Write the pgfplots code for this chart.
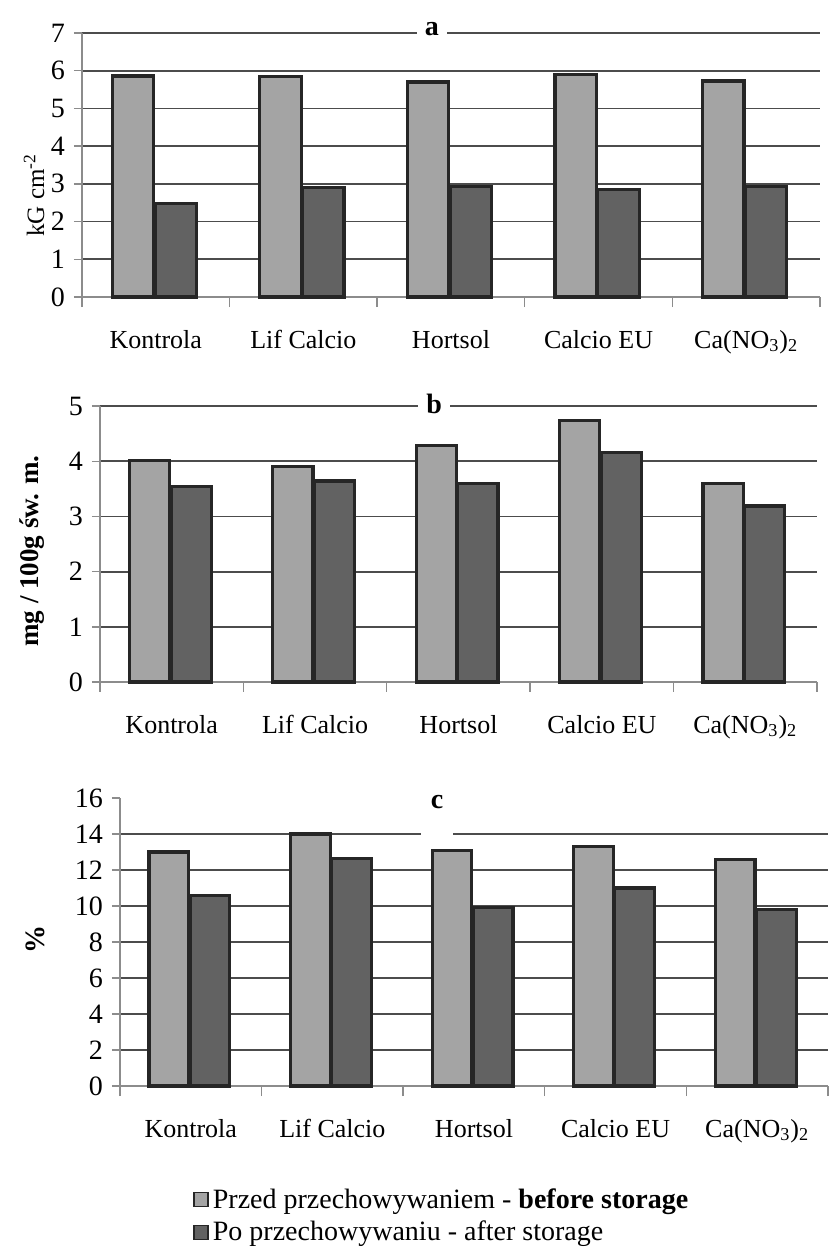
\documentclass[border=0pt]{standalone}
\usepackage{fontspec}
\setmainfont{Liberation Serif}
\usepackage{pgfplots}
\pgfplotsset{compat=1.18}

\definecolor{bef}{HTML}{A4A4A4}
\definecolor{aft}{HTML}{626262}
\definecolor{gridc}{gray}{0.30}
\definecolor{axc}{gray}{0.55}

\pgfplotsset{
  panel/.style={
    scale only axis,
    anchor=north west,
    clip=false,
    xmin=0.5, xmax=5.5, ymin=0,
    xtick={1,2,3,4,5},
    xticklabels={Kontrola, Lif Calcio, Hortsol, Calcio EU, Ca(NO\textsubscript{3})\textsubscript{2}},
    minor xtick={0.5,1.5,2.5,3.5,4.5,5.5},
    major x tick style={draw=none},
    minor x tick style={draw=axc, line width=0.7pt},
    ytick style={draw=axc, line width=0.7pt},
    tick align=outside,
    major tick length=4pt, minor tick length=5pt,
    axis x line*=bottom, axis y line*=left,
    axis line style={draw=axc, line width=0.7pt},
    ymajorgrids, grid style={draw=gridc, line width=0.9pt},
    xticklabel style={font=\fontsize{13}{15}\selectfont, yshift=-9pt},
    yticklabel style={font=\fontsize{14}{16}\selectfont, xshift=-1pt},
    /pgf/number format/assume math mode=true,
    bar width=0.28,
  },
  bef/.style={ybar, bar shift=-0.155, draw=black!85, line width=1.6pt, fill=bef},
  aft/.style={ybar, bar shift=0.135, draw=black!85, line width=1.6pt, fill=aft},
}

\begin{document}
\begin{tikzpicture}
\path[use as bounding box] (0pt,0pt) rectangle (415pt,-624.5pt);

% a: firmness
\begin{axis}[panel, at={(41pt,-16.5pt)}, width=369pt, height=132pt,
    ymax=7, ytick={0,1,...,7},
    ylabel={kG cm\textsuperscript{-2}},
    ylabel style={at={([xshift=-24pt]rel axis cs:0,0.386)}, anchor=center,
      font=\fontsize{12.5}{14}\selectfont}]
\addplot[bef] coordinates {(1,5.86) (2,5.85) (3,5.70) (4,5.90) (5,5.73)};
\addplot[aft] coordinates {(1,2.48) (2,2.90) (3,2.93) (4,2.85) (5,2.92)};
\node[fill=white, inner sep=4pt, font=\bfseries\fontsize{14}{16}\selectfont]
  at ([yshift=2pt]rel axis cs:0.474,1) {a};
\end{axis}

% b: mg / 100 g
\begin{axis}[panel, at={(50pt,-203pt)}, width=358.5pt, height=138pt,
    ymax=5, ytick={0,1,...,5},
    ylabel={mg / 100g św. m.},
    ylabel style={at={([xshift=-34pt]rel axis cs:0,0.475)}, anchor=center,
      font=\bfseries\fontsize{13.5}{15}\selectfont}]
\addplot[bef] coordinates {(1,4.02) (2,3.90) (3,4.28) (4,4.74) (5,3.60)};
\addplot[aft] coordinates {(1,3.54) (2,3.64) (3,3.59) (4,4.16) (5,3.19)};
\node[fill=white, inner sep=4pt, font=\bfseries\fontsize{14}{16}\selectfont]
  at ([yshift=1pt]rel axis cs:0.466,1) {b};
\end{axis}

% c: %
\begin{axis}[panel, at={(60pt,-399pt)}, width=354pt, height=144pt,
    ymax=16, ytick={0,2,...,14},
    extra y ticks={16}, extra y tick style={grid=none},
    ylabel={\%},
    ylabel style={at={([xshift=-42.5pt]rel axis cs:0,0.51)}, anchor=center,
      font=\bfseries\fontsize{14}{16}\selectfont},
    legend style={at={(0.103,-0.34)}, anchor=north west, draw=none, fill=none,
      inner sep=0pt, row sep=1pt, font=\fontsize{14}{16}\selectfont,
      cells={anchor=west}},
    legend image code/.code={\draw[#1, line width=0.8pt] (0pt,-3.5pt) rectangle (7pt,3.5pt);}]
\addplot[bef] coordinates {(1,13.0) (2,14.0) (3,13.1) (4,13.3) (5,12.6)};
\addplot[aft] coordinates {(1,10.6) (2,12.65) (3,9.9) (4,11.0) (5,9.8)};
\legend{Przed przechowywaniem - \textbf{before storage}, Po przechowywaniu - after storage}
\node[fill=white, inner sep=0pt, minimum width=16pt, minimum height=3pt]
  at (rel axis cs:0.448,0.875) {};
\node[font=\bfseries\fontsize{14}{16}\selectfont]
  at ([yshift=-2pt]rel axis cs:0.448,1) {c};
\end{axis}
\end{tikzpicture}
\end{document}
